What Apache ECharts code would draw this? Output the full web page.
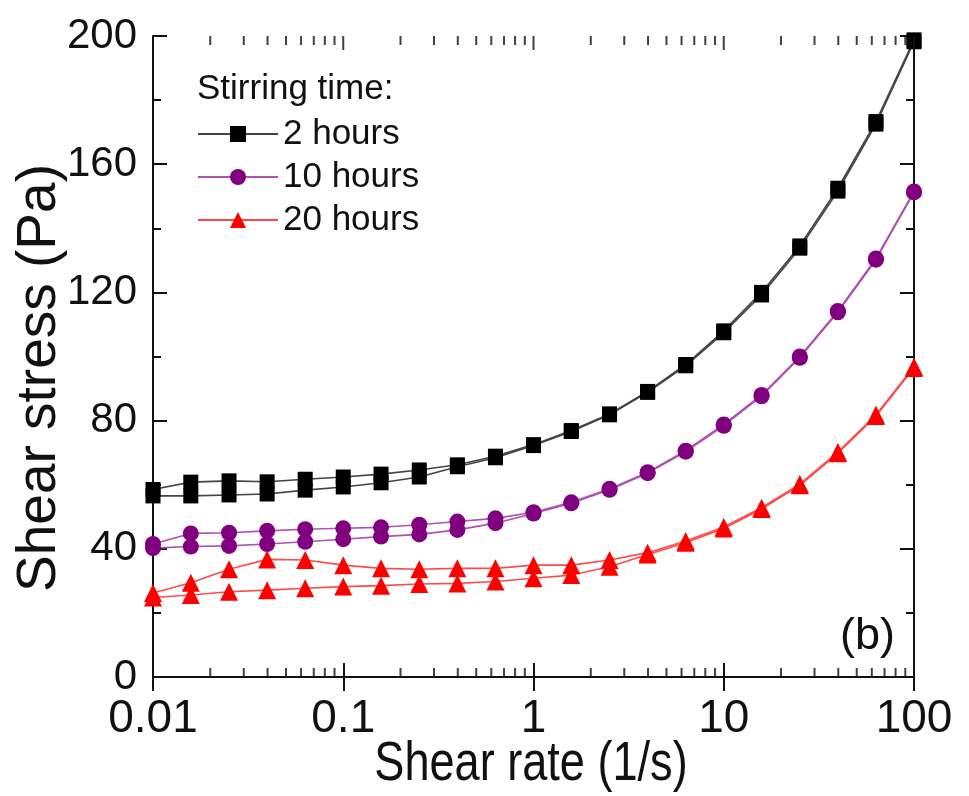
<!DOCTYPE html>
<html>
<head>
<meta charset="utf-8">
<script src="https://cdn.jsdelivr.net/npm/echarts@6/dist/echarts.min.js"></script>
<style>
  html, body { margin: 0; padding: 0; background: #fff; }
  #chart { width: 969px; height: 796px; }
</style>
</head>
<body>
<div id="chart"></div>
<script>
// shear rate (1/s), 5 points per decade
const shearRate = [0.01, 0.0158, 0.0251, 0.0398, 0.0631, 0.1, 0.158, 0.251, 0.398, 0.631,
    1, 1.58, 2.51, 3.98, 6.31, 10, 15.8, 25.1, 39.8, 63.1, 100];

// shear stress (Pa), two sweeps per stirring time
const h2Up   = [58.5, 60.8, 61.2, 60.9, 61.7, 62.4, 63.3, 64.6, 66.2, 68.9, 72.5, 76.9, 82.1, 89.1, 97.5, 108, 120, 134.5, 152.5, 173.3, 198.8];
const h2Down = [56.5, 56.5, 56.8, 57.1, 58.3, 59.3, 60.6, 62.4, 65.6, 68.4, 72.2, 76.6, 81.8, 88.8, 97.1, 107.4, 119.2, 133.8, 151.6, 172.5, 198.2];
const h10Up   = [41.5, 44.8, 45, 45.6, 46.1, 46.4, 46.7, 47.5, 48.5, 49.5, 51.4, 54.5, 58.7, 63.9, 70.6, 78.8, 88, 100, 114.2, 130.6, 151.5];
const h10Down = [40.2, 40.7, 40.9, 41.5, 42.2, 43, 43.8, 44.5, 45.9, 48, 51, 54.2, 58.4, 63.6, 70.3, 78.4, 87.6, 99.6, 113.8, 130.2, 151.2];
const h20Up   = [26.2, 29.4, 33.6, 36.7, 36.5, 34.9, 33.9, 33.6, 33.9, 33.9, 34.9, 34.9, 36.5, 38.8, 42.4, 46.8, 52.8, 60.2, 70.2, 81.8, 96.8];
const h20Down = [24.8, 25.6, 26.6, 27.1, 27.7, 28.2, 28.5, 29, 29.2, 29.8, 30.8, 31.8, 34.4, 38.2, 41.9, 46.3, 52.4, 59.8, 69.8, 81.4, 96.4];

const seriesNames = ['2 hours', '10 hours', '20 hours'];
const xDecades = [0.01, 0.1, 1, 10, 100];

// minor ticks of the log axis (2..9 in each decade)
const minorX = [];
xDecades.slice(0, -1).forEach(d => {
    for (let k = 2; k <= 9; k++) minorX.push(+(d * k).toPrecision(3));
});

const font = 'Liberation Sans';
const ink = '#111';

const pair = (xs, ys) => xs.map((x, i) => [x, ys[i]]);

const makeLine = (name, ys, lineColor, symbol, size, color) => ({
    name: name,
    type: 'line',
    data: pair(shearRate, ys),
    symbol: symbol,
    symbolSize: size,
    showAllSymbol: true,
    clip: false,
    lineStyle: { color: lineColor, width: 1.6 },
    itemStyle: { color: color },
    emphasis: { disabled: true }
});

const tickSeries = (xs, axisIdx, yVal, offset, len) => ({
    type: 'scatter',
    silent: true,
    clip: false,
    xAxisIndex: axisIdx,
    data: xs.map(x => [x, yVal]),
    symbol: 'rect',
    symbolSize: [2, len],
    symbolOffset: [0, offset],
    itemStyle: { color: ink },
    z: 10
});

const chart = echarts.init(document.getElementById('chart'));

chart.setOption({
    animation: false,
    grid: { left: 153, right: 55, top: 36, bottom: 119 },
    title: {
        text: 'Stirring time:',
        left: 192, top: 67,
        textStyle: { fontFamily: font, fontSize: 35, fontWeight: 'normal', color: ink }
    },
    legend: {
        data: seriesNames,
        orient: 'vertical',
        left: 192, top: 111,
        itemWidth: 80, itemHeight: 20,
        itemGap: 7,
        textStyle: { fontFamily: font, fontSize: 35, lineHeight: 36, color: ink }
    },
    graphic: [{
        type: 'text',
        x: 40, y: 378,
        rotation: Math.PI / 2,
        style: { text: 'Shear stress (Pa)', fontFamily: font, fontSize: 55, fill: ink,
            align: 'center', verticalAlign: 'middle' }
    }, {
        type: 'text',
        x: 531, y: 765,
        scaleX: 0.82,
        style: { text: 'Shear rate (1/s)', fontFamily: font, fontSize: 55, fill: ink,
            align: 'center', verticalAlign: 'middle' }
    }, {
        type: 'text',
        x: 895, y: 637,
        style: { text: '(b)', fontFamily: font, fontSize: 45, fill: ink,
            align: 'right', verticalAlign: 'middle' }
    }],
    xAxis: [{
        type: 'log',
        logBase: 10,
        min: 0.01, max: 100,
        axisLine: { lineStyle: { color: ink, width: 2 } },
        axisTick: { inside: true, length: 14, lineStyle: { color: ink, width: 2 } },
        axisLabel: { fontFamily: font, fontSize: 46, color: ink, margin: 19,
            formatter: v => String(v) },
        splitLine: { show: false }
    }, {
        type: 'log',
        logBase: 10,
        min: 0.01, max: 100,
        position: 'top',
        axisLine: { lineStyle: { color: ink, width: 2 } },
        axisTick: { inside: true, length: 14, lineStyle: { color: ink, width: 2 } },
        axisLabel: { show: false },
        splitLine: { show: false }
    }],
    yAxis: [{
        type: 'value',
        min: 0, max: 200, interval: 40,
        axisLine: { show: true, lineStyle: { color: ink, width: 2 } },
        axisTick: { inside: true, length: 14, lineStyle: { color: ink, width: 2 } },
        minorTick: { show: true, splitNumber: 2, length: 8, lineStyle: { color: ink, width: 2 } },
        axisLabel: { fontFamily: font, fontSize: 42, color: ink, margin: 16 },
        splitLine: { show: false }
    }, {
        type: 'value',
        min: 0, max: 200, interval: 40,
        position: 'right',
        axisLine: { show: true, lineStyle: { color: ink, width: 2 } },
        axisTick: { inside: true, length: 14, lineStyle: { color: ink, width: 2 } },
        minorTick: { show: true, splitNumber: 2, length: 8, lineStyle: { color: ink, width: 2 } },
        axisLabel: { show: false },
        splitLine: { show: false }
    }],
    series: [
        makeLine(seriesNames[0], h2Up, '#444', 'rect', 15, '#000'),
        makeLine(seriesNames[0], h2Down, '#444', 'rect', 15, '#000'),
        makeLine(seriesNames[1], h10Up, '#b050b0', 'circle', 16, '#800080'),
        makeLine(seriesNames[1], h10Down, '#b050b0', 'circle', 16, '#800080'),
        makeLine(seriesNames[2], h20Up, '#ff4a4a', 'triangle', 18, '#ff0000'),
        makeLine(seriesNames[2], h20Down, '#ff4a4a', 'triangle', 18, '#ff0000'),
        tickSeries(minorX, 0, 0, -4.5, 9),
        tickSeries(minorX, 1, 200, 4.5, 9),
        tickSeries(xDecades, 1, 200, 7, 14)
    ]
});
</script>
</body>
</html>
